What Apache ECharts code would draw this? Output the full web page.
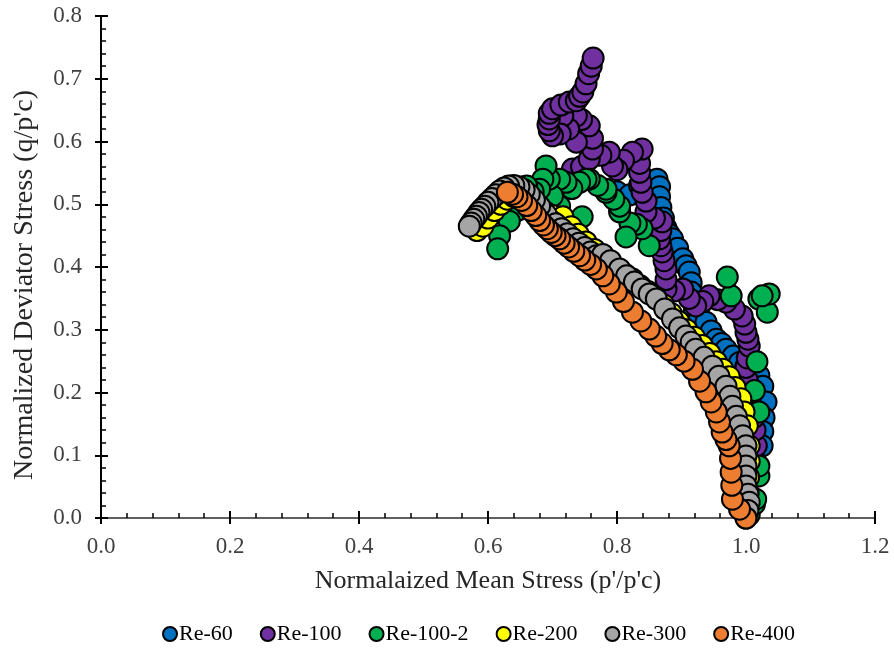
<!DOCTYPE html>
<html>
<head>
<meta charset="utf-8">
<script src="https://cdn.jsdelivr.net/npm/echarts@6/dist/echarts.min.js"></script>
<style>
  html, body { margin: 0; padding: 0; background: #fff; }
  #chart { width: 894px; height: 652px; }
</style>
</head>
<body>
<div id="chart"></div>
<script>
// 图例名称 / 颜色
var seriesNames = ['Re-60', 'Re-100', 'Re-100-2', 'Re-200', 'Re-300', 'Re-400'];
var seriesColors = ['#0070C0', '#7030A0', '#00B050', '#FFFF00', '#A5A5A5', '#ED7D31'];

var xTicks = [0, 0.2, 0.4, 0.6, 0.8, 1.0, 1.2];
var yTicks = [0, 0.1, 0.2, 0.3, 0.4, 0.5, 0.6, 0.7, 0.8];

// [p'/p'c, q/p'c]
var re60 = [
  [0.800,0.520],[0.820,0.515],[0.835,0.530],[0.850,0.538],[0.862,0.540],[0.866,0.528],
  [0.866,0.512],[0.868,0.495],[0.872,0.478],[0.876,0.462],[0.881,0.452],[0.886,0.445],
  [0.894,0.430],[0.902,0.413],[0.907,0.402],[0.912,0.392],[0.915,0.375],[0.915,0.360],
  [0.918,0.345],[0.920,0.330],[0.928,0.320],[0.938,0.312],[0.946,0.298],[0.948,0.274],
  [0.954,0.285],[0.962,0.278],[0.969,0.269],[0.980,0.258],[0.990,0.248],[0.990,0.217],
  [1.000,0.242],[1.012,0.235],[1.020,0.227],[1.026,0.210],[1.031,0.185],[1.028,0.160],
  [1.026,0.138],[1.025,0.115],[1.015,0.090],[1.008,0.065],[1.004,0.040],[1.000,0.015]
];
var re100 = [
  [1.000,0.015],[1.002,0.040],[1.005,0.065],[1.010,0.090],[1.016,0.115],[1.014,0.140],
  [1.012,0.160],[1.008,0.180],[1.005,0.200],[1.002,0.220],[1.000,0.240],[1.002,0.255],
  [1.005,0.274],[1.003,0.285],[1.000,0.296],[0.998,0.309],[0.994,0.322],[0.982,0.333],
  [0.969,0.344],[0.956,0.348],[0.943,0.354],[0.933,0.345],[0.922,0.338],[0.912,0.350],
  [0.902,0.365],[0.889,0.362],[0.876,0.365],[0.876,0.380],[0.876,0.397],[0.873,0.410],
  [0.870,0.424],[0.868,0.434],[0.866,0.445],[0.868,0.458],[0.870,0.472],[0.858,0.478],
  [0.845,0.488],[0.845,0.505],[0.839,0.519],[0.837,0.535],[0.835,0.551],[0.835,0.565],
  [0.839,0.588],[0.824,0.583],[0.810,0.570],[0.800,0.555],[0.793,0.561],[0.788,0.583],
  [0.775,0.578],[0.731,0.556],[0.745,0.560],[0.757,0.572],[0.762,0.588],[0.762,0.605],
  [0.757,0.625],[0.745,0.635],[0.737,0.641],[0.737,0.599],[0.725,0.620],[0.716,0.641],
  [0.712,0.612],[0.700,0.609],[0.695,0.617],[0.693,0.627],[0.695,0.636],[0.695,0.645],
  [0.700,0.652],[0.713,0.658],[0.726,0.663],[0.737,0.665],[0.742,0.672],[0.747,0.679],
  [0.752,0.692],[0.756,0.708],[0.760,0.720],[0.763,0.733]
];
var re100b = [
  [1.005,0.005],[1.013,0.022],[1.015,0.030],[1.020,0.067],[1.020,0.083],[1.020,0.169],
  [1.013,0.203],[1.017,0.249],[1.020,0.349],[1.033,0.328],[1.036,0.357],[1.025,0.354],
  [0.977,0.354],[0.971,0.384],[0.850,0.434],[0.839,0.461],[0.830,0.468],[0.820,0.470],
  [0.814,0.448],[0.804,0.488],[0.804,0.497],[0.795,0.508],[0.783,0.519],[0.783,0.524],
  [0.770,0.530],[0.746,0.480],[0.757,0.540],[0.752,0.540],[0.742,0.535],[0.730,0.525],
  [0.721,0.535],[0.711,0.540],[0.711,0.497],[0.700,0.513],[0.695,0.540],[0.690,0.561],
  [0.685,0.540],[0.680,0.524],[0.670,0.520],[0.660,0.529],[0.660,0.510],[0.645,0.490],
  [0.633,0.473],[0.618,0.450],[0.615,0.429]
];
var re200 = [
  [0.583,0.458],[0.592,0.465],[0.600,0.478],[0.610,0.490],[0.620,0.500],[0.630,0.508],
  [0.640,0.512],[0.650,0.510],[0.660,0.505],[0.670,0.498],[0.680,0.492],[0.690,0.487],
  [0.700,0.482],[0.716,0.480],[0.729,0.464],[0.740,0.452],[0.752,0.440],[0.765,0.428],
  [0.778,0.415],[0.790,0.404],[0.802,0.394],[0.813,0.388],[0.824,0.381],[0.836,0.370],
  [0.848,0.361],[0.860,0.352],[0.872,0.340],[0.884,0.326],[0.896,0.313],[0.908,0.300],
  [0.920,0.288],[0.932,0.275],[0.944,0.262],[0.954,0.249],[0.964,0.237],[0.974,0.225],
  [0.983,0.208],[0.992,0.190],[0.997,0.169],[1.002,0.147],[1.005,0.115],[1.005,0.090],
  [1.004,0.065],[1.003,0.040],[1.002,0.015]
];
var re300 = [
  [0.700,0.472],[0.690,0.484],[0.680,0.497],[0.672,0.507],[0.664,0.516],[0.656,0.523],
  [0.648,0.528],[0.640,0.530],[0.632,0.529],[0.625,0.526],[0.618,0.521],[0.612,0.515],
  [0.606,0.509],[0.600,0.503],[0.595,0.497],[0.590,0.492],[0.586,0.487],[0.582,0.481],
  [0.578,0.476],[0.574,0.470],[0.571,0.465],
  [0.705,0.469],[0.714,0.461],[0.723,0.453],[0.732,0.445],[0.741,0.438],[0.750,0.431],
  [0.759,0.424],[0.768,0.418],[0.778,0.420],[0.790,0.410],[0.804,0.397],[0.815,0.386],
  [0.827,0.376],[0.839,0.365],[0.850,0.357],[0.861,0.349],[0.874,0.333],[0.886,0.317],
  [0.897,0.303],[0.907,0.290],[0.915,0.280],[0.922,0.269],[0.935,0.256],[0.948,0.242],
  [0.958,0.226],[0.969,0.210],[0.975,0.194],[0.979,0.178],[0.985,0.162],[0.990,0.147],
  [0.995,0.131],[1.000,0.115],[1.000,0.099],[1.000,0.083],[1.000,0.067],[1.000,0.051],
  [1.003,0.038],[1.005,0.025],[1.003,0.012],[1.000,0.000]
];
var re400 = [
  [1.000,0.000],[0.990,0.014],[0.979,0.030],[0.978,0.052],[0.977,0.073],[0.976,0.095],
  [0.974,0.115],[0.969,0.125],[0.963,0.137],[0.959,0.153],[0.954,0.169],[0.946,0.185],
  [0.938,0.201],[0.928,0.218],[0.917,0.237],[0.904,0.250],[0.892,0.260],[0.881,0.268],
  [0.870,0.278],[0.860,0.290],[0.850,0.301],[0.837,0.314],[0.824,0.328],[0.810,0.345],
  [0.799,0.360],[0.788,0.373],[0.778,0.386],[0.768,0.397],[0.759,0.404],[0.750,0.411],
  [0.742,0.418],[0.733,0.425],[0.725,0.432],[0.718,0.438],[0.711,0.445],[0.704,0.450],
  [0.698,0.455],[0.692,0.461],[0.686,0.467],[0.680,0.474],[0.674,0.482],[0.667,0.490],
  [0.660,0.498],[0.652,0.506],[0.645,0.512],[0.638,0.516],[0.630,0.519]
];
var allData = [re60, re100, re100b, re200, re300, re400];

var chart = echarts.init(document.getElementById('chart'), null, {renderer: 'canvas'});
var fontName = 'Liberation Serif';
var labelColor = '#404040';

function baseAxis(extra) {
  var a = {
    type: 'value',
    splitLine: {show: false},
    axisLabel: {show: false},
    axisLine: {show: false},
    axisTick: {show: false},
    minorTick: {show: false}
  };
  for (var k in extra) a[k] = extra[k];
  return a;
}
// 刻度文字
function tickLabel(margin) {
  return {
    show: true,
    margin: margin,
    fontSize: 23,
    fontFamily: fontName,
    color: labelColor,
    formatter: function (v) { return v.toFixed(1); }
  };
}
var xMin = xTicks[0], xMax = xTicks[xTicks.length - 1];
var yMin = yTicks[0], yMax = yTicks[yTicks.length - 1];
var xStep = xTicks[1] - xTicks[0], yStep = yTicks[1] - yTicks[0];

var option = {
  backgroundColor: '#ffffff',
  animation: false,
  textStyle: {fontFamily: fontName},
  grid: {left: 101, right: 19, top: 16, bottom: 134, outerBoundsMode: 'none'},
  legend: {
    data: seriesNames,
    bottom: 2,
    left: 157,
    itemWidth: 14,
    itemHeight: 14,
    itemGap: 27,
    textStyle: {fontFamily: fontName, fontSize: 22, color: '#000', padding: [0, 0, 0, -3]}
  },
  xAxis: [
    baseAxis({
      position: 'bottom', min: xMin, max: xMax, interval: xStep,
      name: "Normalaized Mean Stress (p'/p'c)", nameLocation: 'middle', nameGap: 50,
      nameTextStyle: {fontFamily: fontName, fontSize: 26, color: '#262626'},
      axisLine: {show: true, lineStyle: {color: '#000', width: 2}},
      axisTick: {show: true, inside: true, length: 7, lineStyle: {color: '#000', width: 2}},
      minorTick: {show: true, splitNumber: 5, length: 5, lineStyle: {color: '#000', width: 1.5}},
      axisLabel: tickLabel(17)
    }),
    baseAxis({
      position: 'bottom', min: xMin, max: xMax, interval: xStep,
      axisTick: {show: true, inside: false, length: 6, lineStyle: {color: '#000', width: 2}}
    }),
    baseAxis({
      position: 'top', min: xMin, max: xMax, interval: xStep,
      axisLine: {show: true, lineStyle: {color: '#808080', width: 1.5}}
    })
  ],
  yAxis: [
    baseAxis({
      position: 'left', min: yMin, max: yMax, interval: yStep,
      name: "Normalized Deviator Stress (q/p'c)", nameLocation: 'middle', nameGap: 62,
      nameTextStyle: {fontFamily: fontName, fontSize: 28, color: '#262626', padding: [0, 36, 0, 0]},
      axisLine: {show: true, lineStyle: {color: '#000', width: 2}},
      axisTick: {show: true, inside: true, length: 7, lineStyle: {color: '#000', width: 2}},
      minorTick: {show: true, splitNumber: 5, length: 5, lineStyle: {color: '#000', width: 1.5}},
      axisLabel: tickLabel(19)
    }),
    baseAxis({
      position: 'left', min: yMin, max: yMax, interval: yStep,
      axisTick: {show: true, inside: false, length: 6, lineStyle: {color: '#000', width: 2}}
    }),
    baseAxis({
      position: 'right', min: yMin, max: yMax, interval: yStep,
      axisLine: {show: true, lineStyle: {color: '#000', width: 2}}
    })
  ],
  series: seriesNames.map(function (name, i) {
    return {
      name: name,
      type: 'scatter',
      xAxisIndex: 0,
      yAxisIndex: 0,
      data: allData[i],
      symbol: 'circle',
      symbolSize: 21,
      itemStyle: {color: seriesColors[i], borderColor: '#000', borderWidth: 2, opacity: 1},
      emphasis: {disabled: true}
    };
  })
};
chart.setOption(option);
</script>
</body>
</html>
